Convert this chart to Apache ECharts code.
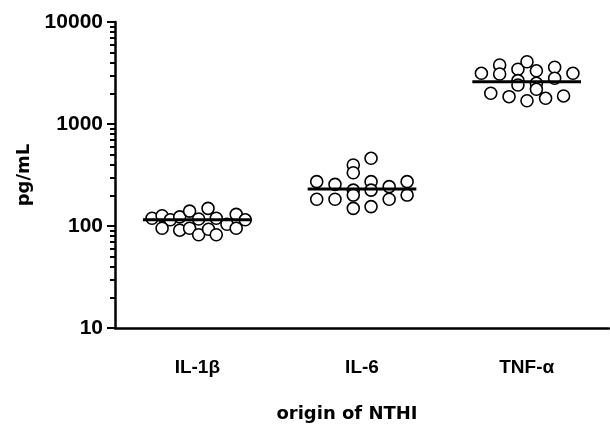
<!DOCTYPE html>
<html>
<head>
<meta charset="utf-8">
<script src="https://cdn.jsdelivr.net/npm/echarts@6/dist/echarts.min.js"></script>
<style>html,body{margin:0;padding:0;background:#fff}#c{width:610px;height:424px}</style>
</head>
<body>
<div id="c"></div>
<script>
var categories = ['IL-1\u03b2', 'IL-6', 'TNF-\u03b1'];
var yTicks = [10, 100, 1000, 10000];
var yMinorTicks = [20,30,40,50,60,70,80,90,200,300,400,500,600,700,800,900,2000,3000,4000,5000,6000,7000,8000,9000];

var il1bValues  = [119,126,115,123,140,117,149,119,104,130,115,95,91,95,82,93,82,95];
var il1bOffsets = [-0.275,-0.214,-0.164,-0.107,-0.047,0.008,0.065,0.115,0.18,0.236,0.291,-0.214,-0.107,-0.047,0.008,0.068,0.115,0.236];

var il6Values  = [272,183,256,183,396,333,225,201,149,461,272,225,155,243,183,272,201];
var il6Offsets = [-0.275,-0.275,-0.164,-0.164,-0.053,-0.053,-0.053,-0.053,-0.053,0.055,0.055,0.055,0.055,0.165,0.165,0.274,0.274];

var tnfValues  = [3140,3785,3090,3438,2660,2412,4077,3323,2506,2188,3597,2806,3140,2000,1853,1690,1786,1884];
var tnfOffsets = [-0.275,-0.164,-0.164,-0.053,-0.053,-0.053,0.002,0.059,0.059,0.059,0.170,0.170,0.281,-0.218,-0.107,0.002,0.115,0.224];

var medians = [115, 231, 2600];

var groups = [[il1bOffsets, il1bValues], [il6Offsets, il6Values], [tnfOffsets, tnfValues]];
var points = [];
groups.forEach(function (g, i) {
  g[1].forEach(function (v, j) { points.push([i + g[0][j], v]); });
});
var medianData = medians.map(function (m, i) { return [i, m]; });

var chart = echarts.init(document.getElementById('c'), null, {renderer: 'canvas'});
var tickFontFamily = 'Arial, "Liberation Sans", Helvetica, sans-serif';
var nameFontFamily = '"DejaVu Sans", Verdana, sans-serif';
chart.setOption({
  animation: false,
  backgroundColor: '#fff',
  grid: {left: 115, right: 1, top: 22, bottom: 96, containLabel: false, outerBoundsMode: 'none'},
  xAxis: [
    {
      type: 'category', data: categories, position: 'bottom',
      axisLine: {onZero: false, lineStyle: {color: '#000', width: 2.5}},
      axisTick: {alignWithLabel: true, length: 13, lineStyle: {color: '#000', width: 2}},
      axisLabel: {fontSize: 19, margin: 30, fontFamily: tickFontFamily, fontWeight: 'bold', color: '#000'},
      name: 'origin of NTHI', nameLocation: 'middle', nameGap: 77,
      nameTextStyle: {fontFamily: nameFontFamily, fontWeight: 'bold', fontSize: 18, color: '#000', padding: [0, 30, 0, 0]}
    },
    {
      type: 'category', data: categories, position: 'bottom',
      axisLine: {show: false, onZero: false},
      axisTick: {alignWithLabel: true, inside: true, length: 13, lineStyle: {color: '#000', width: 2}},
      axisLabel: {show: false}
    },
    {type: 'value', min: -0.5, max: 2.5, show: false, axisLine: {onZero: false}}
  ],
  yAxis: [
    {
      type: 'log', logBase: 10, min: 10, max: 10000, position: 'left',
      splitLine: {show: false},
      axisLine: {show: true, onZero: false, lineStyle: {color: '#000', width: 2.5}},
      axisTick: {show: true, length: 8, customValues: yTicks, lineStyle: {color: '#000', width: 2}},
      axisLabel: {fontSize: 21, margin: 12, customValues: yTicks, fontFamily: tickFontFamily, fontWeight: 'bold', color: '#000',
                  formatter: function (v) { return String(Math.round(v)); }},
      name: 'pg/mL', nameLocation: 'middle', nameGap: 79, nameRotate: 90,
      nameTextStyle: {fontFamily: nameFontFamily, fontWeight: 'bold', fontSize: 18, color: '#000'}
    },
    {
      type: 'log', logBase: 10, min: 10, max: 10000, position: 'left',
      splitLine: {show: false},
      axisLine: {show: false, onZero: false},
      axisTick: {show: true, length: 5, customValues: yMinorTicks, lineStyle: {color: '#000', width: 2}},
      axisLabel: {show: false}
    }
  ],
  series: [
    {
      type: 'scatter', xAxisIndex: 2, yAxisIndex: 0, data: points,
      symbol: 'circle', symbolSize: 12,
      itemStyle: {color: '#fff', borderColor: '#000', borderWidth: 1.6, opacity: 1},
      z: 3
    },
    {
      type: 'custom', xAxisIndex: 2, yAxisIndex: 0, data: medianData, z: 5,
      renderItem: function (params, api) {
        var x = api.value(0), v = api.value(1);
        var p1 = api.coord([x - 0.33, v]), p2 = api.coord([x + 0.33, v]);
        return {type: 'line', shape: {x1: p1[0], y1: p1[1], x2: p2[0], y2: p2[1]},
                style: {stroke: '#000', lineWidth: 3}};
      }
    }
  ]
});
</script>
</body>
</html>
